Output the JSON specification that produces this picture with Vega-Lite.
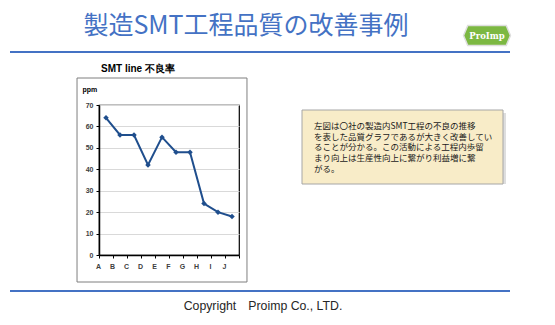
{
  "$schema": "https://vega.github.io/schema/vega-lite/v6.json",
  "padding": {"left": 10, "top": 0, "right": 0, "bottom": 0},
  "background": "white",
  "spacing": 0,
  "config": {"view": {"stroke": null}, "concat": {"spacing": 0}, "font": "Liberation Sans"},
  "datasets": {
    "defects": [
      {"line": "A", "ppm": 64},
      {"line": "B", "ppm": 56},
      {"line": "C", "ppm": 56},
      {"line": "D", "ppm": 42},
      {"line": "E", "ppm": 55},
      {"line": "F", "ppm": 48},
      {"line": "G", "ppm": 48},
      {"line": "H", "ppm": 24},
      {"line": "I", "ppm": 20},
      {"line": "J", "ppm": 18}
    ]
  },
  "vconcat": [
    {
      "hconcat": [
        {
          "width": 450, "height": 51,
          "data": {"values": [{"t": "製造SMT工程品質の改善事例"}]},
          "mark": {"type": "text", "font": "Noto Sans CJK JP", "fontSize": 25, "color": "#4472c4", "dx": 11},
          "encoding": {"text": {"field": "t", "type": "nominal"}}
        },
        {
          "width": 52, "height": 51,
          "data": {"values": [{"t": "ProImp"}]},
          "layer": [
            {
              "mark": {"type": "point", "shape": "M -1 0 L -0.82 -0.43 L 0.82 -0.43 L 1 0 L 0.82 0.43 L -0.82 0.43 Z", "size": 2200, "filled": true, "fill": "#7cb842", "stroke": "#dedede", "strokeWidth": 1.5, "opacity": 1, "yOffset": 10},
              "encoding": {}
            },
            {
              "mark": {"type": "text", "font": "DejaVu Serif", "fontWeight": "bold", "fontSize": 8.5, "color": "white", "dy": 10},
              "encoding": {"text": {"field": "t", "type": "nominal"}}
            }
          ]
        }
      ],
      "spacing": 0
    },
    {
      "width": 500, "height": 2,
      "data": {"values": [{}]},
      "mark": {"type": "rect", "color": "#4472c4"}
    },
    {
      "width": 1, "height": 9,
      "data": {"values": [{}]},
      "mark": {"type": "rect", "opacity": 0}
    },
    {
      "hconcat": [
        {
          "width": 65, "height": 1,
          "data": {"values": [{}]},
          "mark": {"type": "rect", "opacity": 0}
        },
        {
          "width": 140, "height": 150,
          "title": {"text": "SMT line 不良率", "fontSize": 10, "fontWeight": "bold", "font": "Liberation Sans", "anchor": "start", "frame": "group", "dx": 2, "offset": 4, "color": "black"},
          "view": {"stroke": "black", "strokeWidth": 1.2},
          "layer": [
            {
              "data": {"values": [{}]},
              "mark": {"type": "rect", "fill": "transparent", "stroke": "#7f7f7f", "strokeWidth": 1},
              "encoding": {
                "x": {"datum": -0.157, "type": "quantitative", "scale": {"domain": [0, 1]}, "axis": null},
                "x2": {"datum": 1.057},
                "y": {"datum": -0.18, "type": "quantitative", "scale": {"domain": [0, 1]}, "axis": null},
                "y2": {"datum": 1.18}
              }
            },
            {
              "data": {"name": "defects"},
              "mark": {"type": "line", "color": "#1f4e8d", "strokeWidth": 2, "point": {"shape": "diamond", "size": 30, "filled": true, "color": "#1f4e8d"}},
              "encoding": {
                "x": {
                  "field": "line", "type": "nominal",
                  "scale": {"type": "band", "paddingInner": 0, "paddingOuter": 0},
                  "axis": {"orient": "bottom", "title": null, "labelAngle": 0, "tickBand": "extent", "labelFontSize": 7, "labelFontWeight": "bold", "labelColor": "#404040", "tickSize": 3, "tickColor": "black", "domainColor": "black", "domainWidth": 1.5, "grid": false, "labelPadding": 4, "labelOffset": -8}
                },
                "y": {
                  "field": "ppm", "type": "quantitative",
                  "scale": {"domain": [0, 70], "nice": false},
                  "axis": {"orient": "left", "values": [0, 10, 20, 30, 40, 50, 60, 70], "title": "ppm", "titleAngle": 0, "titleAlign": "left", "titleBaseline": "bottom", "titleX": -17, "titleY": -13, "titleFontSize": 7, "titleFontWeight": "bold", "titleColor": "black", "labelFontSize": 7, "labelFontWeight": "bold", "labelColor": "#404040", "tickSize": 3, "tickColor": "black", "domainColor": "black", "domainWidth": 1.5, "gridColor": "#d9d9d9", "labelPadding": 3, "grid": true}
                }
              }
            }
          ],
          "resolve": {"scale": {"x": "independent", "y": "independent"}, "axis": {"x": "independent", "y": "independent"}}
        },
        {
          "width": 52, "height": 1,
          "data": {"values": [{}]},
          "mark": {"type": "rect", "opacity": 0}
        },
        {
          "vconcat": [
            {
              "width": 1, "height": 4,
              "data": {"values": [{}]},
              "mark": {"type": "rect", "opacity": 0}
            },
            {
              "width": 201, "height": 74,
              "data": {"values": [{"t": "左図は〇社の製造内SMT工程の不良の推移\nを表した品質グラフであるが大きく改善してい\nることが分かる。この活動による工程内歩留\nまり向上は生産性向上に繋がり利益増に繋\nがる。"}]},
              "layer": [
                {"mark": {"type": "rect", "fill": "#c8c8c8", "opacity": 0.6, "xOffset": 3, "yOffset": 3}, "encoding": {}},
                {"mark": {"type": "rect", "fill": "#f8ecc8", "stroke": "#a6a6a6", "strokeWidth": 1}, "encoding": {}},
                {
                  "mark": {"type": "text", "align": "left", "baseline": "top", "dx": -88.5, "dy": -25, "fontSize": 8.5, "font": "Noto Sans CJK JP", "lineHeight": 10.7, "lineBreak": "\n", "color": "#1a1a1a"},
                  "encoding": {"text": {"field": "t", "type": "nominal"}}
                }
              ]
            }
          ],
          "spacing": 0
        }
      ],
      "spacing": 0
    },
    {
      "width": 1, "height": 6,
      "data": {"values": [{}]},
      "mark": {"type": "rect", "opacity": 0}
    },
    {
      "width": 500, "height": 2,
      "data": {"values": [{}]},
      "mark": {"type": "rect", "color": "#4472c4"}
    },
    {
      "width": 500, "height": 28,
      "data": {"values": [{"t": "Copyright　Proimp Co., LTD."}]},
      "mark": {"type": "text", "fontSize": 12.3, "font": "Liberation Sans", "color": "#262626", "dx": 3},
      "encoding": {"text": {"field": "t", "type": "nominal"}}
    }
  ]
}
